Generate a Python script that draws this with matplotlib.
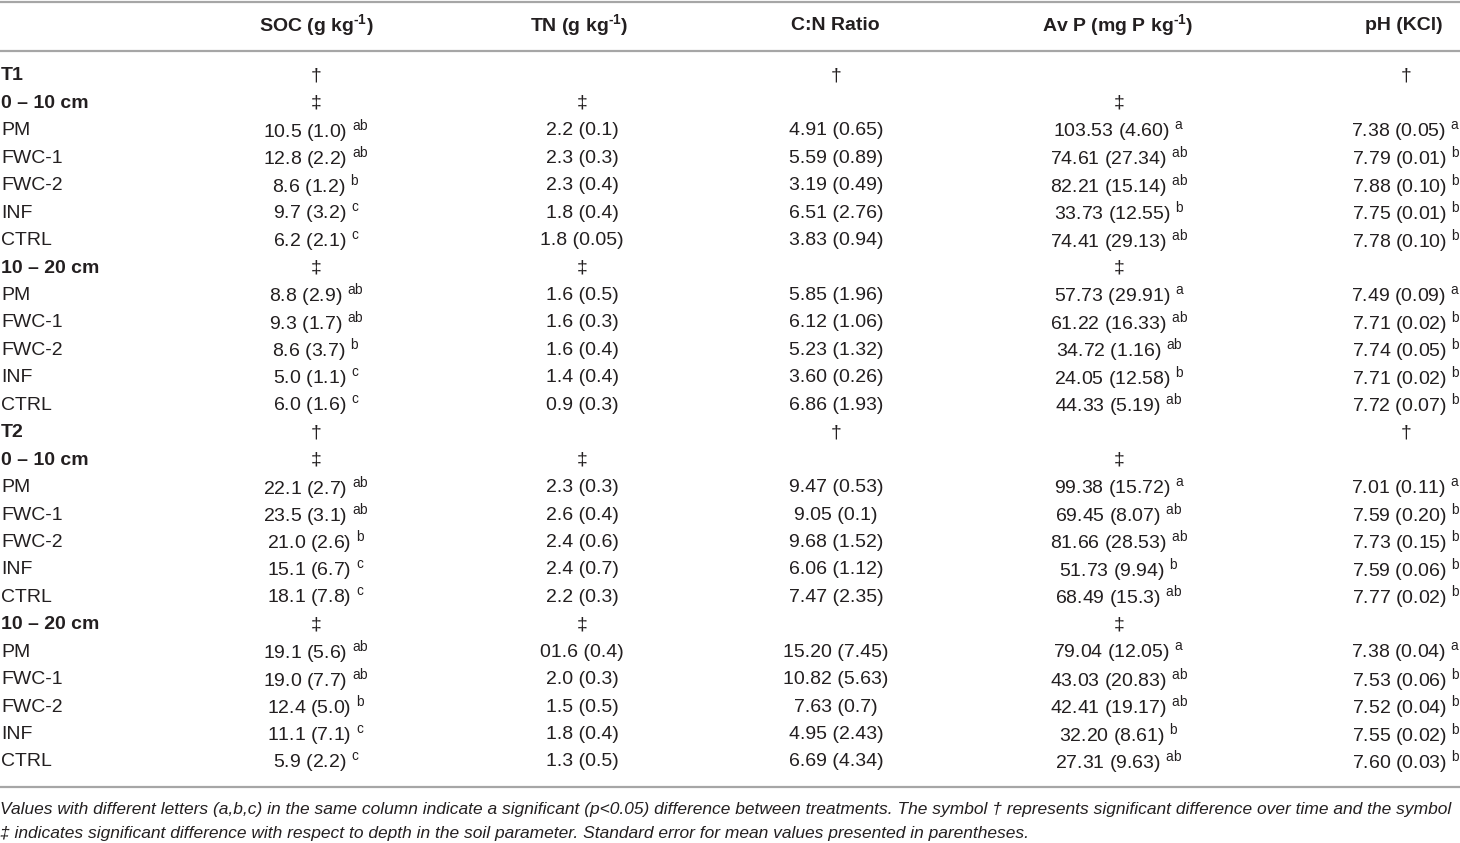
import matplotlib
matplotlib.use('Agg')
import matplotlib.pyplot as plt

plt.rcParams['font.family'] = ['Liberation Sans', 'DejaVu Sans']
plt.rcParams['mathtext.fontset'] = 'custom'
plt.rcParams['mathtext.rm'] = 'Liberation Sans'
plt.rcParams['mathtext.it'] = 'Liberation Sans:italic'
plt.rcParams['mathtext.bf'] = 'Liberation Sans:bold'

# table content
headers = ['SOC (g kg$^{\\mathbf{‐1}}$)', 'TN (g kg$^{\\mathbf{‐1}}$)', 'C:N Ratio',
           'Av P (mg P kg$^{\\mathbf{‐1}}$)', 'pH (KCl)']
times = ['T1', 'T2']
depths = ['0 – 10 cm', '10 – 20 cm']
treatments = ['PM', 'FWC-1', 'FWC-2', 'INF', 'CTRL']

# marks shown on the time row and on the depth rows, per column
time_marks = ['†', '', '†', '', '†']
depth_marks = ['‡', '‡', '', '‡', '']

# values in order T1 0-10, T1 10-20, T2 0-10, T2 10-20 (5 treatments each)
soc = ['10.5 (1.0)', '12.8 (2.2)', '8.6 (1.2)', '9.7 (3.2)', '6.2 (2.1)',
       '8.8 (2.9)', '9.3 (1.7)', '8.6 (3.7)', '5.0 (1.1)', '6.0 (1.6)',
       '22.1 (2.7)', '23.5 (3.1)', '21.0 (2.6)', '15.1 (6.7)', '18.1 (7.8)',
       '19.1 (5.6)', '19.0 (7.7)', '12.4 (5.0)', '11.1 (7.1)', '5.9 (2.2)']
soc_let = ['ab', 'ab', 'b', 'c', 'c'] * 4

tn = ['2.2 (0.1)', '2.3 (0.3)', '2.3 (0.4)', '1.8 (0.4)', '1.8 (0.05)',
      '1.6 (0.5)', '1.6 (0.3)', '1.6 (0.4)', '1.4 (0.4)', '0.9 (0.3)',
      '2.3 (0.3)', '2.6 (0.4)', '2.4 (0.6)', '2.4 (0.7)', '2.2 (0.3)',
      '01.6 (0.4)', '2.0 (0.3)', '1.5 (0.5)', '1.8 (0.4)', '1.3 (0.5)']
tn_let = [''] * 20

cn = ['4.91 (0.65)', '5.59 (0.89)', '3.19 (0.49)', '6.51 (2.76)', '3.83 (0.94)',
      '5.85 (1.96)', '6.12 (1.06)', '5.23 (1.32)', '3.60 (0.26)', '6.86 (1.93)',
      '9.47 (0.53)', '9.05 (0.1)', '9.68 (1.52)', '6.06 (1.12)', '7.47 (2.35)',
      '15.20 (7.45)', '10.82 (5.63)', '7.63 (0.7)', '4.95 (2.43)', '6.69 (4.34)']
cn_let = [''] * 20

avp = ['103.53 (4.60)', '74.61 (27.34)', '82.21 (15.14)', '33.73 (12.55)', '74.41 (29.13)',
       '57.73 (29.91)', '61.22 (16.33)', '34.72 (1.16)', '24.05 (12.58)', '44.33 (5.19)',
       '99.38 (15.72)', '69.45 (8.07)', '81.66 (28.53)', '51.73 (9.94)', '68.49 (15.3)',
       '79.04 (12.05)', '43.03 (20.83)', '42.41 (19.17)', '32.20 (8.61)', '27.31 (9.63)']
avp_let = ['a', 'ab', 'ab', 'b', 'ab'] * 4

ph = ['7.38 (0.05)', '7.79 (0.01)', '7.88 (0.10)', '7.75 (0.01)', '7.78 (0.10)',
      '7.49 (0.09)', '7.71 (0.02)', '7.74 (0.05)', '7.71 (0.02)', '7.72 (0.07)',
      '7.01 (0.11)', '7.59 (0.20)', '7.73 (0.15)', '7.59 (0.06)', '7.77 (0.02)',
      '7.38 (0.04)', '7.53 (0.06)', '7.52 (0.04)', '7.55 (0.02)', '7.60 (0.03)']
ph_let = ['a', 'b', 'b', 'b', 'b'] * 4

columns = [(soc, soc_let), (tn, tn_let), (cn, cn_let), (avp, avp_let), (ph, ph_let)]

footnote = ('Values with different letters (a,b,c) in the same column indicate a significant (p<0.05) '
            'difference between treatments. The symbol † represents significant difference over time and the symbol\n'
            '‡ indicates significant difference with respect to depth in the soil parameter. '
            'Standard error for mean values presented in parentheses.')

# layout (pixel units)
W, H = 1460, 843
col_x = [316, 582, 836, 1119, 1406]
head_x = [316, 579, 835, 1118, 1404]
y_first = 76
dy = 27.44
fs = 14
ink = '#231f20'
rule = '#a6a6a6'

fig = plt.figure(figsize=(W / 100, H / 100), dpi=100)
ax = fig.add_axes([0, 0, 1, 1])
ax.set_xlim(0, W)
ax.set_ylim(H, 0)
ax.axis('off')

for y in (1.5, 50.5, 786.5):
    ax.plot([0, W], [y, y], color=rule, lw=1.6, solid_capstyle='butt')

for hx, h in zip(head_x, headers):
    ax.text(hx, 25, h, ha='center', va='center', fontsize=fs, fontweight='bold', color=ink)


def cell(x, y, s, sup):
    if sup:
        s = s + ' $^{\\mathregular{' + sup + '}}$'
    ax.text(x, y, s, ha='center', va='center', fontsize=fs, color=ink)


row = 0
k = 0
for t in times:
    y = y_first + row * dy
    ax.text(1, y, t, ha='left', va='center', fontsize=fs, fontweight='bold', color=ink)
    for cx, m in zip(col_x, time_marks):
        if m:
            ax.text(cx, y, m, ha='center', va='center', fontsize=fs, color=ink)
    row += 1
    for d in depths:
        y = y_first + row * dy
        ax.text(1, y, d, ha='left', va='center', fontsize=fs, fontweight='bold', color=ink)
        for cx, m in zip(col_x, depth_marks):
            if m:
                ax.text(cx, y, m, ha='center', va='center', fontsize=fs, color=ink)
        row += 1
        for tr in treatments:
            y = y_first + row * dy
            ax.text(1, y, tr, ha='left', va='center', fontsize=fs, color=ink)
            for cx, (vals, lets) in zip(col_x, columns):
                cell(cx, y, vals[k], lets[k])
            row += 1
            k += 1

ax.text(0, 802, footnote, ha='left', va='top', fontsize=12.5, style='italic',
        color=ink, linespacing=1.78)

fig.savefig('out.png', dpi=100)
